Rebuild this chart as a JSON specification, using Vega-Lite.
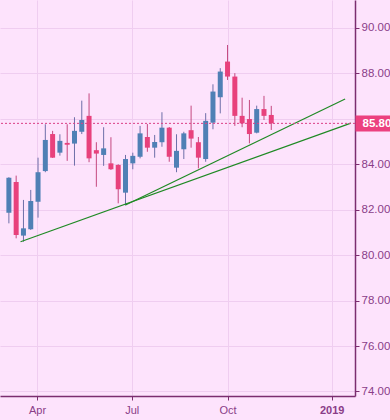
{
  "$schema": "https://vega.github.io/schema/vega-lite/v6.json",
  "width": 355,
  "height": 396,
  "autosize": {"type": "none"},
  "padding": {"left": 0, "top": 0, "right": 35, "bottom": 24},
  "background": "#fde3fc",
  "config": {"view": {"stroke": null}, "font": "Liberation Sans"},
  "datasets": {
    "candles": [
      {"date": "2018-03-05", "open": 81.87, "high": 83.43, "low": 81.40, "close": 83.41},
      {"date": "2018-03-12", "open": 83.22, "high": 83.50, "low": 80.74, "close": 80.89},
      {"date": "2018-03-19", "open": 80.86, "high": 82.43, "low": 80.59, "close": 81.18},
      {"date": "2018-03-26", "open": 81.14, "high": 82.87, "low": 81.11, "close": 82.38},
      {"date": "2018-04-02", "open": 82.35, "high": 84.29, "low": 81.65, "close": 83.65},
      {"date": "2018-04-09", "open": 83.70, "high": 85.76, "low": 83.65, "close": 85.07},
      {"date": "2018-04-16", "open": 85.33, "high": 85.47, "low": 84.28, "close": 84.29},
      {"date": "2018-04-23", "open": 84.51, "high": 85.32, "low": 84.38, "close": 85.03},
      {"date": "2018-04-30", "open": 84.94, "high": 85.76, "low": 84.15, "close": 84.86},
      {"date": "2018-05-07", "open": 84.91, "high": 86.07, "low": 83.94, "close": 85.47},
      {"date": "2018-05-14", "open": 85.43, "high": 86.80, "low": 85.33, "close": 85.95},
      {"date": "2018-05-21", "open": 86.13, "high": 87.12, "low": 84.09, "close": 84.26},
      {"date": "2018-05-28", "open": 84.62, "high": 84.97, "low": 83.01, "close": 84.47},
      {"date": "2018-06-04", "open": 84.41, "high": 85.63, "low": 83.93, "close": 84.70},
      {"date": "2018-06-11", "open": 84.04, "high": 85.19, "low": 83.75, "close": 83.78},
      {"date": "2018-06-18", "open": 83.97, "high": 84.00, "low": 82.28, "close": 82.90},
      {"date": "2018-06-25", "open": 82.75, "high": 84.41, "low": 82.19, "close": 84.23},
      {"date": "2018-07-02", "open": 84.04, "high": 84.51, "low": 83.78, "close": 84.37},
      {"date": "2018-07-09", "open": 84.33, "high": 85.69, "low": 84.26, "close": 85.36},
      {"date": "2018-07-16", "open": 85.20, "high": 85.77, "low": 84.55, "close": 84.73},
      {"date": "2018-07-23", "open": 84.73, "high": 85.29, "low": 84.29, "close": 84.98},
      {"date": "2018-07-30", "open": 84.97, "high": 86.29, "low": 84.77, "close": 85.61},
      {"date": "2018-08-06", "open": 85.61, "high": 85.64, "low": 84.11, "close": 84.33},
      {"date": "2018-08-13", "open": 83.85, "high": 85.32, "low": 83.65, "close": 84.59},
      {"date": "2018-08-20", "open": 84.66, "high": 85.43, "low": 84.23, "close": 85.36},
      {"date": "2018-08-27", "open": 85.50, "high": 86.58, "low": 84.73, "close": 85.13},
      {"date": "2018-09-03", "open": 84.97, "high": 85.20, "low": 83.82, "close": 84.29},
      {"date": "2018-09-10", "open": 84.23, "high": 86.25, "low": 84.11, "close": 85.91},
      {"date": "2018-09-17", "open": 85.83, "high": 87.52, "low": 85.54, "close": 87.20},
      {"date": "2018-09-24", "open": 86.95, "high": 88.23, "low": 86.24, "close": 88.08},
      {"date": "2018-10-01", "open": 88.52, "high": 89.25, "low": 87.71, "close": 87.86},
      {"date": "2018-10-08", "open": 87.86, "high": 88.01, "low": 85.69, "close": 86.13},
      {"date": "2018-10-15", "open": 86.13, "high": 86.93, "low": 85.63, "close": 85.80},
      {"date": "2018-10-22", "open": 85.99, "high": 86.83, "low": 84.92, "close": 85.33},
      {"date": "2018-10-29", "open": 85.39, "high": 86.58, "low": 85.36, "close": 86.43},
      {"date": "2018-11-05", "open": 86.43, "high": 87.01, "low": 85.95, "close": 86.13},
      {"date": "2018-11-12", "open": 86.17, "high": 86.57, "low": 85.51, "close": 85.80}
    ],
    "trend": [
      {"line": "A", "date": "2018-03-16T05:00:00Z", "v": 80.59},
      {"line": "A", "date": "2019-01-27T12:00:00Z", "v": 85.81},
      {"line": "B", "date": "2018-06-25T00:00:00Z", "v": 82.21},
      {"line": "B", "date": "2019-01-21T22:00:00Z", "v": 86.87}
    ],
    "last": [{"price": 85.8}]
  },
  "resolve": {"axis": {"x": "independent", "y": "independent"}},
  "layer": [
    {
      "data": {"name": "candles"},
      "mark": {"type": "rule", "strokeWidth": 1},
      "encoding": {
        "x": {
          "field": "date",
          "type": "temporal",
          "scale": {
            "type": "utc",
            "domain": [
              {"year": 2018, "month": 3, "date": 1, "hours": 6, "minutes": 30, "utc": true},
              {"year": 2019, "month": 1, "date": 26, "hours": 14, "minutes": 30, "utc": true}
            ]
          },
          "axis": {
            "title": null,
            "values": [
              {"year": 2018, "month": 4, "date": 1, "utc": true},
              {"year": 2018, "month": 7, "date": 1, "utc": true},
              {"year": 2018, "month": 10, "date": 1, "utc": true},
              {"year": 2019, "month": 1, "date": 9, "utc": true}
            ],
            "labelExpr": "utcmonth(datum.value) == 0 ? utcFormat(datum.value, '%Y') : utcFormat(datum.value, '%b')",
            "labelFontWeight": {"condition": {"test": "utcmonth(datum.value) == 0", "value": "bold"}, "value": "normal"},
            "labelFontSize": 11,
            "labelColor": "#8a3d88",
            "labelPadding": 4,
            "tickSize": 4,
            "tickColor": "#7b2d6f",
            "domainColor": "#7b2d6f",
            "domainWidth": 1.5,
            "grid": true,
            "gridColor": "#efcdf0",
            "labelFlush": false,
            "labelOverlap": false
          }
        },
        "y": {
          "field": "low",
          "type": "quantitative",
          "scale": {"domain": [73.8, 91.23], "nice": false, "zero": false},
          "axis": {
            "title": null,
            "orient": "right",
            "values": [74, 76, 78, 80, 82, 84, 86, 88, 90],
            "format": ".3f",
            "labelFontSize": 11.5,
            "labelColor": "#8a3d88",
            "labelOpacity": {"condition": {"test": "datum.value == 86", "value": 0}, "value": 1},
            "labelPadding": 2,
            "tickSize": 4,
            "tickColor": "#7b2d6f",
            "domainColor": "#7b2d6f",
            "domainWidth": 1.5,
            "grid": true,
            "gridColor": "#efcdf0",
            "labelOverlap": false,
            "labelFlush": false,
            "labelBound": false
          }
        },
        "y2": {"field": "high"},
        "color": {"condition": {"test": "datum.close >= datum.open", "value": "#6d6fa8"}, "value": "#c4487f"}
      }
    },
    {
      "data": {"name": "candles"},
      "mark": {"type": "bar", "width": 5},
      "encoding": {
        "x": {"field": "date", "type": "temporal", "axis": null},
        "y": {"field": "open", "type": "quantitative", "axis": null},
        "y2": {"field": "close"},
        "color": {"condition": {"test": "datum.close >= datum.open", "value": "#4f80b5"}, "value": "#e8417c"}
      }
    },
    {
      "data": {"name": "trend"},
      "mark": {"type": "line", "color": "#1f8a24", "strokeWidth": 1.2, "clip": false},
      "encoding": {
        "x": {"field": "date", "type": "temporal", "axis": null},
        "y": {"field": "v", "type": "quantitative", "axis": null},
        "detail": {"field": "line"}
      }
    },
    {
      "data": {"name": "last"},
      "mark": {"type": "rule", "color": "#dc3f86", "strokeDash": [2, 2], "strokeWidth": 1},
      "encoding": {
        "y": {
          "field": "price",
          "type": "quantitative",
          "axis": {
            "title": null,
            "orient": "right",
            "values": [85.8],
            "format": ".3f",
            "domain": false,
            "grid": false,
            "tickSize": 35,
            "tickWidth": 16,
            "tickColor": "#ec417f",
            "labelColor": "#ffffff",
            "labelFontWeight": "bold",
            "labelFontSize": 11.5,
            "labelPadding": -28,
            "labelFlush": false,
            "labelBound": false,
            "labelOverlap": false,
            "zindex": 2
          }
        }
      }
    }
  ]
}
